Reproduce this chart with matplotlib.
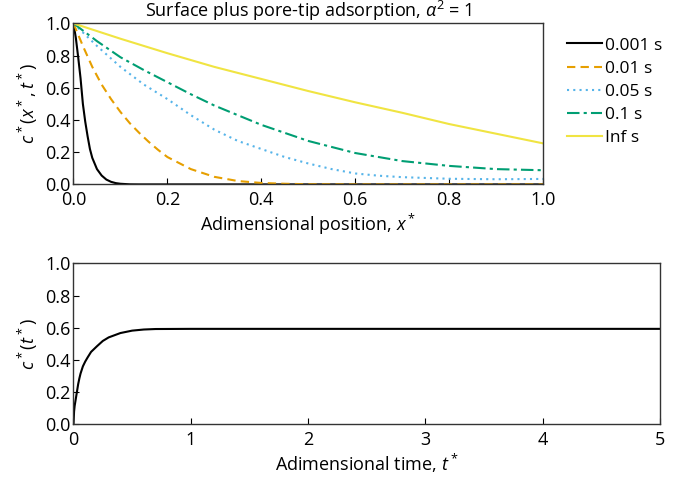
import numpy as np
import matplotlib
matplotlib.use("Agg")
import matplotlib.pyplot as plt

plt.rcParams['font.family'] = ['Open Sans', 'DejaVu Sans']
plt.rcParams['mathtext.fontset'] = 'custom'
plt.rcParams['mathtext.rm'] = 'Open Sans'
plt.rcParams['mathtext.it'] = 'Open Sans:italic'

# concentration profiles c*(x*, t*)
x_001 = [0, 0.005, 0.01, 0.015, 0.02, 0.025, 0.03, 0.035, 0.04, 0.05, 0.06, 0.07, 0.08, 0.09, 0.1, 0.12, 0.14, 1.0]
c_001 = [1.0, 0.91, 0.79, 0.66, 0.50, 0.39, 0.30, 0.22, 0.165, 0.095, 0.055, 0.03, 0.016, 0.008, 0.004, 0.0005, 0.0, 0.0]

x_01 = [0, 0.02, 0.04, 0.06, 0.08, 0.1, 0.12, 0.14, 0.16, 0.18, 0.2, 0.25, 0.3, 0.35, 0.4, 0.45, 0.5, 0.6, 1.0]
c_01 = [1.0, 0.86, 0.73, 0.62, 0.53, 0.45, 0.38, 0.32, 0.265, 0.215, 0.17, 0.095, 0.047, 0.021, 0.009, 0.004, 0.001, 0.0, 0.0]

x_05 = [0, 0.05, 0.1, 0.15, 0.2, 0.25, 0.3, 0.35, 0.4, 0.45, 0.5, 0.55, 0.6, 0.65, 0.7, 0.8, 0.9, 1.0]
c_05 = [1.0, 0.86, 0.73, 0.62, 0.53, 0.43, 0.34, 0.27, 0.22, 0.17, 0.13, 0.095, 0.068, 0.054, 0.045, 0.035, 0.032, 0.034]

x_1 = [0, 0.05, 0.1, 0.15, 0.2, 0.25, 0.3, 0.35, 0.4, 0.45, 0.5, 0.6, 0.7, 0.8, 0.9, 1.0]
c_1 = [1.0, 0.89, 0.79, 0.71, 0.635, 0.56, 0.49, 0.43, 0.37, 0.32, 0.27, 0.195, 0.145, 0.115, 0.095, 0.088]

x_inf = [0, 0.1, 0.2, 0.3, 0.4, 0.5, 0.6, 0.7, 0.8, 0.9, 1.0]
c_inf = [1.0, 0.905, 0.815, 0.73, 0.655, 0.58, 0.51, 0.445, 0.375, 0.315, 0.255]

labels = ["0.001 s", "0.01 s", "0.05 s", "0.1 s", "Inf s"]

# average concentration c*(t*)
t_avg = [0, 0.005, 0.01, 0.02, 0.03, 0.04, 0.05, 0.06, 0.08, 0.1, 0.12, 0.15, 0.2, 0.25, 0.3, 0.4, 0.5, 0.6, 0.7, 1.0, 5.0]
c_avg = [0, 0.08, 0.115, 0.16, 0.205, 0.25, 0.285, 0.315, 0.36, 0.39, 0.415, 0.45, 0.485, 0.518, 0.54, 0.567, 0.582, 0.589, 0.592, 0.593, 0.593]

fig = plt.figure(figsize=(6.92, 4.84), dpi=100)
ax1 = fig.add_axes([0.1062, 0.619, 0.6785, 0.3326])
ax2 = fig.add_axes([0.1062, 0.1233, 0.8475, 0.3326])

ax1.plot(x_001, c_001, color='black', lw=1.5, ls='-', label=labels[0])
ax1.plot(x_01, c_01, color='#E69F00', lw=1.5, ls=(0, (4, 2.5)), label=labels[1])
ax1.plot(x_05, c_05, color='#56B4E9', lw=1.5, ls=(0, (1, 2)), label=labels[2])
ax1.plot(x_1, c_1, color='#009E73', lw=1.5, ls=(0, (6, 2, 1.5, 2)), label=labels[3])
ax1.plot(x_inf, c_inf, color='#F0E442', lw=1.5, ls='-', label=labels[4])

ax2.plot(t_avg, c_avg, color='black', lw=1.5)

fs = 13
for ax in (ax1, ax2):
    ax.set_ylim(0, 1)
    ax.set_yticks([0, 0.2, 0.4, 0.6, 0.8, 1.0])
    ax.tick_params(direction='in', length=4, width=0.8, labelsize=fs, top=False, right=False)
    ax.tick_params(axis='y', pad=2)
    ax.tick_params(axis='x', pad=5)
    for s in ax.spines.values():
        s.set_linewidth(1.0)
        s.set_color('#333333')

ax1.set_xlim(0, 1)
ax1.set_xticks([0, 0.2, 0.4, 0.6, 0.8, 1.0])
ax1.set_title(r"Surface plus pore-tip adsorption, $\alpha^2$ = 1", fontsize=fs, pad=3)
ax1.set_xlabel(r"Adimensional position, $x^*$", fontsize=fs, labelpad=2)
ax1.set_ylabel(r"$c^*(x^*, t^*)$", fontsize=fs, labelpad=4)
ax1.legend(loc='upper left', bbox_to_anchor=(0.797, 0.955), bbox_transform=fig.transFigure,
           frameon=False, fontsize=12.5, handlelength=2.0, labelspacing=0.4, handletextpad=0.2)

ax2.set_xlim(0, 5)
ax2.set_xticks([0, 1, 2, 3, 4, 5])
ax2.set_xlabel(r"Adimensional time, $t^*$", fontsize=fs, labelpad=2)
ax2.set_ylabel(r"$c^*(t^*)$", fontsize=fs, labelpad=4)

fig.savefig("out.png", dpi=100)
